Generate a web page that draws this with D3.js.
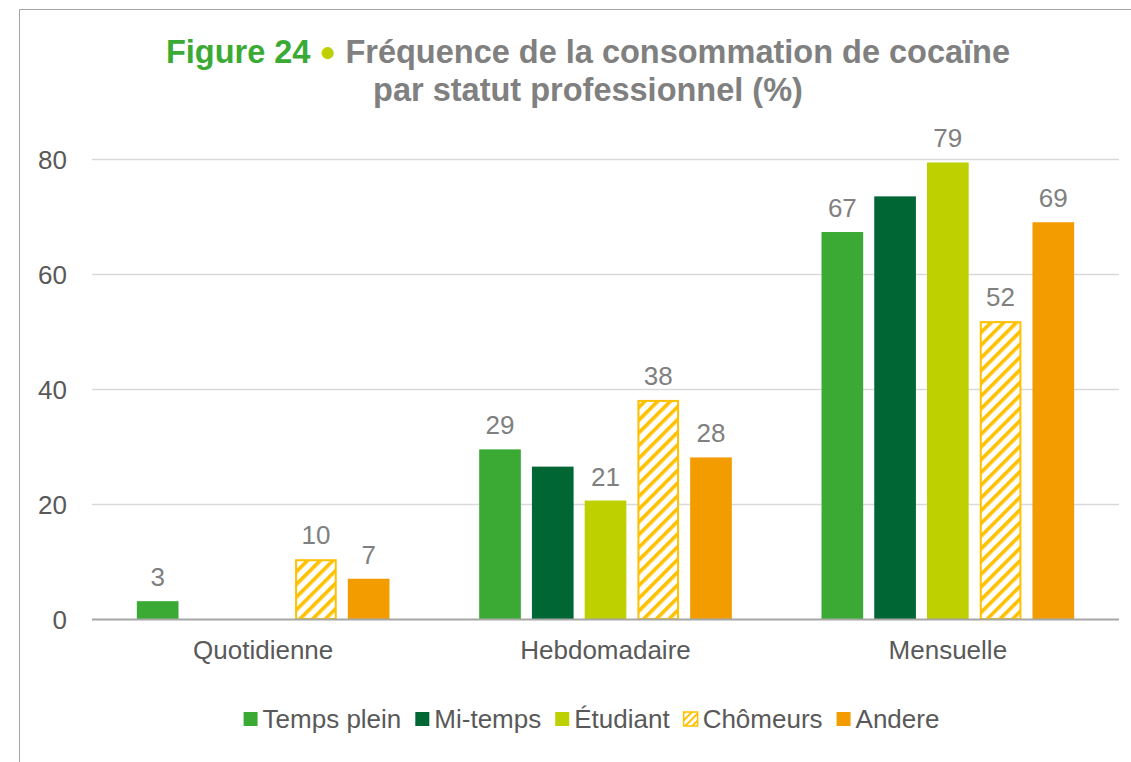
<!DOCTYPE html>
<html><head><meta charset="utf-8">
<script src="https://cdn.jsdelivr.net/npm/d3@7"></script>
<style>body{margin:0;background:#fff;font-family:"Liberation Sans",Arial,sans-serif}</style>
</head><body><div id="chart"></div>
<script>
const categories = ["Quotidienne", "Hebdomadaire", "Mensuelle"];
const seriesNames = ["Temps plein", "Mi-temps", "Étudiant", "Chômeurs", "Andere"];
const tempsPlein = [3.1, 29.5, 67.3];
const miTemps = [0, 26.5, 73.5];
const etudiant = [0, 20.6, 79.4];
const chomeurs = [10.4, 38.1, 51.8];
const andere = [7.0, 28.1, 69.0];
const labelsTempsPlein = ["3", "29", "67"];
const labelsMiTemps = [null, null, null];
const labelsEtudiant = [null, "21", "79"];
const labelsChomeurs = ["10", "38", "52"];
const labelsAndere = ["7", "28", "69"];
const yTicks = [0, 20, 40, 60, 80];

const seriesValues = [tempsPlein, miTemps, etudiant, chomeurs, andere];
const seriesLabels = [labelsTempsPlein, labelsMiTemps, labelsEtudiant, labelsChomeurs, labelsAndere];
const colors = ["#3aaa35", "#006633", "#bfd000", "#ffc000", "#f39c00"];
const FONT = "'Liberation Sans', Arial, sans-serif";
const FS = 26;

const W = 1131, H = 762;
const svg = d3.select("#chart").append("svg").attr("width", W).attr("height", H);
const defs = svg.append("defs");
const pat = defs.append("pattern").attr("id", "hatch").attr("patternUnits", "userSpaceOnUse")
  .attr("width", 9).attr("height", 9).attr("patternTransform", "rotate(45)");
pat.append("rect").attr("width", 9).attr("height", 9).attr("fill", "#fff");
pat.append("rect").attr("x", 0).attr("width", 3.6).attr("height", 9).attr("fill", "#ffc000");
const patL = defs.append("pattern").attr("id", "hatchL").attr("patternUnits", "userSpaceOnUse")
  .attr("width", 5).attr("height", 5).attr("patternTransform", "rotate(45)");
patL.append("rect").attr("width", 5).attr("height", 5).attr("fill", "#fff");
patL.append("rect").attr("width", 2).attr("height", 5).attr("fill", "#ffc000");

// frame
svg.append("path").attr("d", "M19.5,762 V9.5 H1131").attr("fill", "none").attr("stroke", "#a6a6a6").attr("stroke-width", 1);

const x0 = 92, x1 = 1119, yTop = 159, yBot = 619;
const y = d3.scaleLinear().domain([0, 80]).range([yBot, yTop]);
const xBand = d3.scaleBand().domain(categories).range([x0, x1]).paddingInner(0.262).paddingOuter(0.131);
const xInner = d3.scaleBand().domain(seriesNames).range([0, xBand.bandwidth()]).paddingInner(0.21).paddingOuter(0);

// gridlines
svg.append("g").selectAll("line").data(yTicks.filter(t => t > 0)).join("line")
  .attr("x1", x0).attr("x2", x1).attr("y1", d => y(d) + 0.5).attr("y2", d => y(d) + 0.5)
  .attr("stroke", "#d9d9d9").attr("stroke-width", 1.3);

// y axis labels
const yAxis = d3.axisLeft(y).tickValues(yTicks).tickSize(0).tickPadding(0);
const gy = svg.append("g").attr("transform", "translate(67,0)").call(yAxis);
gy.select(".domain").remove();
gy.selectAll("text").attr("font-size", FS).attr("fill", "#595959").attr("font-family", FONT).attr("dy", "0.36em");

// bars
seriesNames.forEach((s, si) => {
  const g = svg.append("g");
  categories.forEach((c, ci) => {
    const v = seriesValues[si][ci];
    const bx = xBand(c) + xInner(s);
    const bw = xInner.bandwidth();
    if (v > 0) {
      if (si === 3) {
        g.append("rect").attr("x", bx + 1).attr("y", y(v) + 1).attr("width", bw - 2).attr("height", yBot - y(v) - 1)
          .attr("fill", "url(#hatch)").attr("stroke", "#ffc000").attr("stroke-width", 2);
      } else {
        g.append("rect").attr("x", bx).attr("y", y(v)).attr("width", bw).attr("height", yBot - y(v))
          .attr("fill", colors[si]);
      }
    }
    const lab = seriesLabels[si][ci];
    if (lab) {
      g.append("text").attr("x", bx + bw / 2).attr("y", y(v) - 15).attr("text-anchor", "middle")
        .attr("font-size", FS).attr("font-family", FONT).attr("fill", "#808080").text(lab);
    }
  });
});

// baseline
svg.append("line").attr("x1", x0).attr("x2", x1).attr("y1", yBot + 0.5).attr("y2", yBot + 0.5)
  .attr("stroke", "#a6a6a6").attr("stroke-width", 2);

// x axis labels
const xAxis = d3.axisBottom(xBand).tickSize(0).tickPadding(0);
const gx = svg.append("g").attr("transform", `translate(0,${yBot + 31})`).call(xAxis);
gx.select(".domain").remove();
gx.selectAll("text").attr("font-size", FS).attr("fill", "#595959").attr("font-family", FONT).attr("dy", "0.36em");

// title
const t1 = svg.append("text").attr("x", 588).attr("y", 63).attr("text-anchor", "middle")
  .attr("font-size", 32.5).attr("font-weight", "bold").attr("font-family", FONT);
t1.append("tspan").attr("fill", "#3aaa35").text("Figure 24 ");
t1.append("tspan").attr("fill", "#bfd000").attr("font-size", 28).attr("dy", -2).text("●");
t1.append("tspan").attr("fill", "#808080").attr("dy", 2).text("  Fréquence de la consommation de cocaïne");
svg.append("text").attr("x", 588).attr("y", 101).attr("text-anchor", "middle")
  .attr("font-size", 32.5).attr("font-weight", "bold").attr("font-family", FONT).attr("fill", "#808080").text("par statut professionnel (%)");

// legend
const legend = svg.append("g");
let lx = 0;
const GAP = 14;
seriesNames.forEach((s, si) => {
  const it = legend.append("g");
  it.append("rect").attr("x", 0).attr("y", -7).attr("width", 14).attr("height", 14)
    .attr("fill", si === 3 ? "url(#hatchL)" : colors[si]).attr("stroke", si === 3 ? "#ffc000" : "none").attr("stroke-width", 1.5);
  const tx = it.append("text").attr("x", 19).attr("y", 0).attr("dy", "0.36em").attr("font-size", FS)
    .attr("font-family", FONT).attr("fill", "#595959").text(s);
  const w = 19 + tx.node().getComputedTextLength();
  it.attr("transform", `translate(${lx},0)`);
  lx += w + GAP;
});
const totalW = lx - GAP;
legend.attr("transform", `translate(${591.5 - totalW / 2},719)`);
</script></body></html>
